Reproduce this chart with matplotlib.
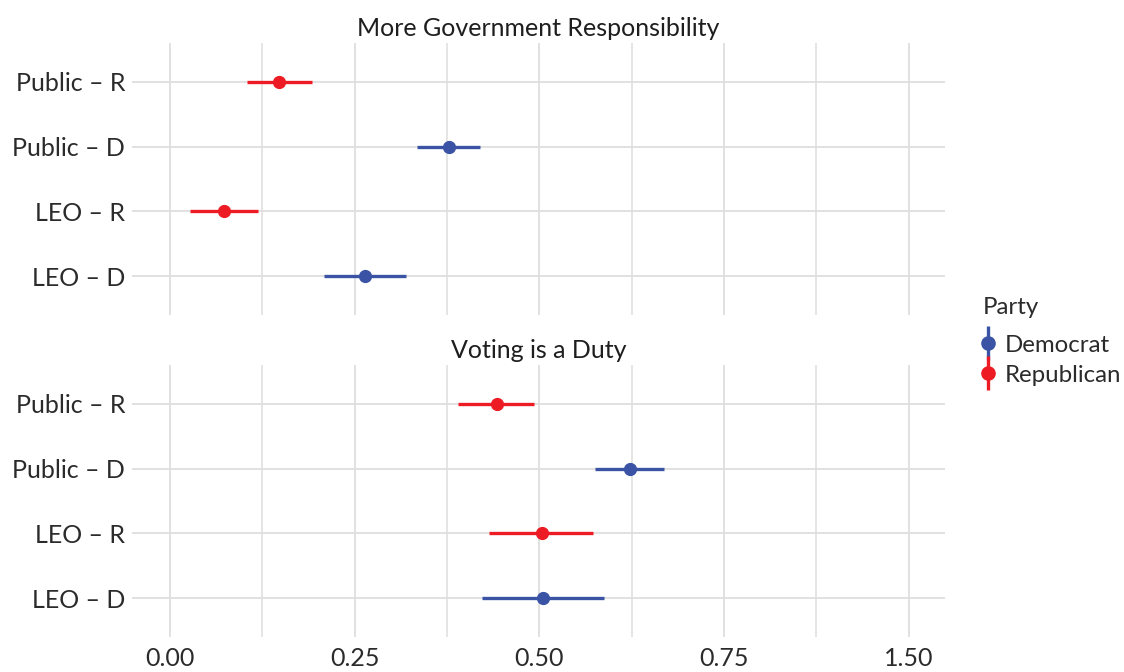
import numpy as np
import matplotlib
matplotlib.use("Agg")
import matplotlib.pyplot as plt
from matplotlib.lines import Line2D
from matplotlib.legend_handler import HandlerTuple

plt.rcParams['font.family'] = ['Lato', 'DejaVu Sans']

# data
groups = ["Public \u2013 R", "Public \u2013 D", "LEO \u2013 R", "LEO \u2013 D"]
party = ["Republican", "Democrat", "Republican", "Democrat"]
panel_titles = ["More Government Responsibility", "Voting is a Duty"]

gov_est = [0.148, 0.377, 0.073, 0.264]
gov_lo = [0.104, 0.335, 0.027, 0.209]
gov_hi = [0.192, 0.419, 0.119, 0.320]

duty_est = [0.442, 0.622, 0.503, 0.505]
duty_lo = [0.390, 0.575, 0.432, 0.423]
duty_hi = [0.493, 0.669, 0.573, 0.588]

xticks = [0.0, 0.25, 0.5, 0.75, 1.0]
xticklabels = ["0.00", "0.25", "0.50", "0.75", "1.50"]

colors = {"Democrat": "#3A53A4", "Republican": "#ED1C24"}
grid_c = "#DEDEDE"
text_c = "#2b2b2b"
fs = 18

fig = plt.figure(figsize=(11.24, 6.72), dpi=100)
ax_top = fig.add_axes([0.1174, 0.5313, 0.7233, 0.4048])
ax_bot = fig.add_axes([0.1174, 0.0521, 0.7233, 0.4048])

panels = [(ax_top, gov_est, gov_lo, gov_hi), (ax_bot, duty_est, duty_lo, duty_hi)]

for i, (ax, est, lo, hi) in enumerate(panels):
    ypos = np.arange(len(groups))[::-1] + 1  # first group at top
    for y, e, l, h, p in zip(ypos, est, lo, hi, party):
        ax.errorbar(e, y, xerr=[[e - l], [h - e]], fmt='o', color=colors[p],
                    ms=8.5, elinewidth=2.4, capsize=0, zorder=3)
    ax.set_ylim(0.4, 4.6)
    ax.set_xlim(-0.0515, 1.049)
    ax.set_yticks(ypos)
    ax.set_yticklabels(groups)
    ax.set_xticks(xticks)
    ax.set_xticks([0.125, 0.375, 0.625, 0.875], minor=True)
    if i == 0:
        ax.set_xticklabels([])
    else:
        ax.set_xticklabels(xticklabels)
    ax.grid(True, which='major', color=grid_c, lw=1.3)
    ax.grid(True, which='minor', axis='x', color=grid_c, lw=1.1)
    ax.set_axisbelow(True)
    for s in ax.spines.values():
        s.set_visible(False)
    ax.tick_params(which='both', length=0, labelsize=fs, labelcolor=text_c, pad=5)
    ax.tick_params(axis='x', pad=7)
    ax.set_title(panel_titles[i], fontsize=fs, color="#1e1e1e", pad=5)

# legend with vertical pointrange keys
handles = []
for p in ["Democrat", "Republican"]:
    vline = Line2D([], [], marker='|', ls='none', color=colors[p], ms=24, mew=2.4)
    dot = Line2D([], [], marker='o', ls='none', color=colors[p], ms=9.5)
    handles.append((vline, dot))
leg = fig.legend(handles, ["Democrat", "Republican"], title="Party",
                 handler_map={tuple: HandlerTuple(ndivide=1, pad=0)},
                 loc='upper left', bbox_to_anchor=(0.874, 0.558), frameon=False,
                 fontsize=17.3, title_fontsize=17.3, handlelength=0.5,
                 handletextpad=0.45, labelspacing=0.38, borderpad=0,
                 borderaxespad=0)
leg._legend_box.align = "left"
leg._legend_box.sep = 12
for t in leg.get_texts():
    t.set_color(text_c)
leg.get_title().set_color(text_c)

fig.savefig("out.png", dpi=100)
